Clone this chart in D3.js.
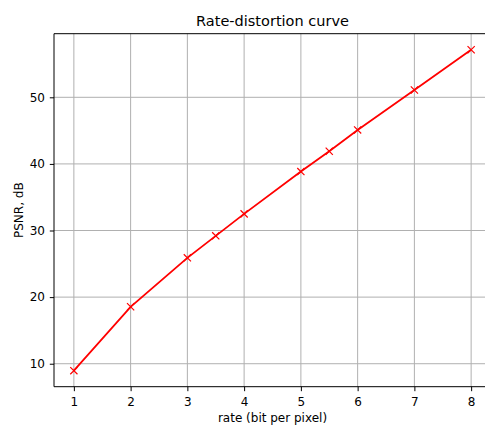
<!DOCTYPE html>
<html>
<head>
<meta charset="utf-8">
<script src="https://cdn.jsdelivr.net/npm/d3@7"></script>
<style>
  body { margin: 0; background: #fff; overflow: hidden; }
  svg text { font-family: "DejaVu Sans", sans-serif; fill: #000; }
</style>
</head>
<body>
<div id="chart"></div>
<script>
// ====================== rate-distortion curve ===============

const rates = [1, 2, 3, 3.5, 4, 5, 5.5, 6, 7, 8];
const psnr = [8.96, 18.55, 25.9, 29.2, 32.5, 38.85, 41.9, 45.1, 51.1, 57.14];
const xTicks = [1, 2, 3, 4, 5, 6, 7, 8];
const yTicks = [10, 20, 30, 40, 50];

const width = 485, height = 425;
const margin = { left: 54, top: 33.7, right: 491, bottom: 386.7 };

const svg = d3.select('#chart')
    .append('svg')
    .attr('width', width)
    .attr('height', height)
    .style('display', 'block');

// matplotlib style 5% margins around the data
const xPad = (d3.max(rates) - d3.min(rates)) * 0.05;
const yPad = (d3.max(psnr) - d3.min(psnr)) * 0.05;

const x = d3.scaleLinear()
    .domain([d3.min(rates) - xPad, d3.max(rates) + xPad])
    .range([margin.left, margin.right]);

const y = d3.scaleLinear()
    .domain([d3.min(psnr) - yPad, d3.max(psnr) + yPad])
    .range([margin.bottom, margin.top]);

// grid
svg.append('g')
    .selectAll('line')
    .data(xTicks)
    .enter()
    .append('line')
    .attr('x1', d => x(d)).attr('x2', d => x(d))
    .attr('y1', margin.top).attr('y2', margin.bottom)
    .style('stroke', '#b0b0b0')
    .style('stroke-width', 1);

svg.append('g')
    .selectAll('line')
    .data(yTicks)
    .enter()
    .append('line')
    .attr('x1', margin.left).attr('x2', margin.right)
    .attr('y1', d => y(d)).attr('y2', d => y(d))
    .style('stroke', '#b0b0b0')
    .style('stroke-width', 1);

// axes
const xAxis = svg.append('g')
    .attr('transform', `translate(0,${margin.bottom})`)
    .call(d3.axisBottom(x).tickValues(xTicks).tickSize(4.5).tickPadding(6).tickFormat(d3.format('d')));

const yAxis = svg.append('g')
    .attr('transform', `translate(${margin.left},0)`)
    .call(d3.axisLeft(y).tickValues(yTicks).tickSize(4.2).tickPadding(4.8).tickFormat(d3.format('d')));

[xAxis, yAxis].forEach(g => {
    g.select('.domain').remove();
    g.selectAll('line').style('stroke', '#000').style('stroke-width', 1);
    g.selectAll('text').style('font-size', '12px').attr('fill', '#000');
});

// spines (right one falls outside the window)
const spines = [
    [margin.left, margin.top, margin.right, margin.top],
    [margin.left, margin.bottom, margin.right, margin.bottom],
    [margin.left, margin.top, margin.left, margin.bottom]
];
svg.append('g')
    .selectAll('line')
    .data(spines)
    .enter()
    .append('line')
    .attr('x1', d => d[0]).attr('y1', d => d[1])
    .attr('x2', d => d[2]).attr('y2', d => d[3])
    .style('stroke', '#000')
    .style('stroke-width', 1);

// line
const line = d3.line()
    .x((d, i) => x(rates[i]))
    .y(d => y(d));

svg.append('path')
    .datum(psnr)
    .attr('d', line)
    .style('fill', 'none')
    .style('stroke', '#ff0000')
    .style('stroke-width', 1.8);

// x markers
const m = 3.6;
svg.append('g')
    .selectAll('path')
    .data(psnr)
    .enter()
    .append('path')
    .attr('d', (d, i) => {
        const cx = x(rates[i]), cy = y(d);
        return `M${cx - m},${cy - m}L${cx + m},${cy + m}M${cx - m},${cy + m}L${cx + m},${cy - m}`;
    })
    .style('stroke', '#ff0000')
    .style('stroke-width', 1.2)
    .style('fill', 'none');

// labels
svg.append('text')
    .attr('x', (margin.left + margin.right) / 2)
    .attr('y', 26)
    .attr('text-anchor', 'middle')
    .style('font-size', '14.5px')
    .text('Rate-distortion curve');

svg.append('text')
    .attr('x', (margin.left + margin.right) / 2)
    .attr('y', 421.5)
    .attr('text-anchor', 'middle')
    .style('font-size', '12px')
    .text('rate (bit per pixel)');

svg.append('text')
    .attr('transform', `translate(22.5,${(margin.top + margin.bottom) / 2}) rotate(-90)`)
    .attr('text-anchor', 'middle')
    .style('font-size', '12px')
    .text('PSNR, dB');
</script>
</body>
</html>
